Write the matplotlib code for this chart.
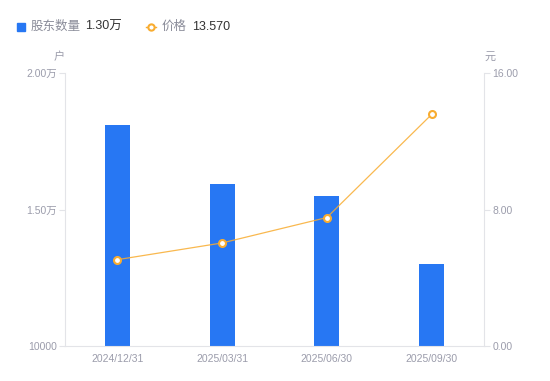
import matplotlib
matplotlib.use("Agg")
import matplotlib.pyplot as plt
from matplotlib.lines import Line2D

plt.rcParams['font.family'] = ['Liberation Sans', 'Noto Sans CJK SC', 'DejaVu Sans']

# data
dates = ['2024/12/31', '2025/03/31', '2025/06/30', '2025/09/30']
holders = [18110, 15920, 15480, 13000]
price = [5.06, 6.04, 7.53, 13.57]
left_ticks = [10000, 15000, 20000]
left_labels = ['10000', '1.50万', '2.00万']
right_ticks = [0, 8, 16]
right_labels = ['0.00', '8.00', '16.00']

blue = '#2777F3'
orange = '#F8AC30'
tick_c = '#9B9CAB'
axis_c = '#E3E4E8'

fig = plt.figure(figsize=(5.5, 3.81), dpi=100)
ax = fig.add_axes([65 / 550, 1 - 346 / 381, 419 / 550, 273 / 381])
x = range(len(dates))
ax.bar(x, holders, width=0.24, color=blue, zorder=2)
ax.set_xlim(-0.5, 3.5)
ax.set_ylim(10000, 20000)
ax.set_yticks(left_ticks)
ax.set_yticklabels(left_labels)
ax.set_xticks(list(x))
ax.set_xticklabels(dates)

ax2 = ax.twinx()
ax2.plot(x, price, color=orange, lw=0.9, alpha=0.85, zorder=3)
ax2.plot(x, price, ls='none', marker='o', ms=5, mfc='white', mec=orange, mew=1.5, zorder=4)
ax2.set_ylim(0, 16)
ax2.set_yticks(right_ticks)
ax2.set_yticklabels(right_labels)

for a in (ax, ax2):
    for s in a.spines.values():
        s.set_visible(False)
ax.spines['left'].set_visible(True)
ax.spines['left'].set_color(axis_c)
ax.spines['bottom'].set_visible(True)
ax.spines['bottom'].set_color(axis_c)
ax2.spines['right'].set_visible(True)
ax2.spines['right'].set_color(axis_c)

ax.tick_params(axis='y', length=4, color=axis_c, labelcolor=tick_c, labelsize=7.5, pad=2)
ax.tick_params(axis='x', length=0, labelcolor=tick_c, labelsize=7.5, pad=6)
ax2.tick_params(axis='y', length=4, color=axis_c, labelcolor=tick_c, labelsize=7.5, pad=2)

fig.text(59 / 550, 1 - 57 / 381, '户', color=tick_c, fontsize=8, ha='center', va='center')
fig.text(490 / 550, 1 - 57 / 381, '元', color=tick_c, fontsize=8, ha='center', va='center')

# legend row
ly = 1 - 26.5 / 381
fig.patches.append(plt.Rectangle((17 / 550, ly - 4 / 381), 8 / 550, 8 / 381,
                                 transform=fig.transFigure, color=blue))
fig.text(31 / 550, ly, '股东数量', color='#8A8C99', fontsize=9, va='center')
fig.text(85 / 550, ly, '1.30万', color='#333333', fontsize=9, va='center')
fig.lines.append(Line2D([146 / 550, 156 / 550], [ly] * 2, transform=fig.transFigure,
                        color=orange, lw=1))
fig.lines.append(Line2D([151 / 550], [ly], transform=fig.transFigure, marker='o',
                        ms=4.5, mfc='white', mec=orange, mew=1.5))
fig.text(162 / 550, ly, '价格', color='#8A8C99', fontsize=9, va='center')
fig.text(192 / 550, ly, '13.570', color='#333333', fontsize=9, va='center')

fig.savefig('out.png', dpi=100)
